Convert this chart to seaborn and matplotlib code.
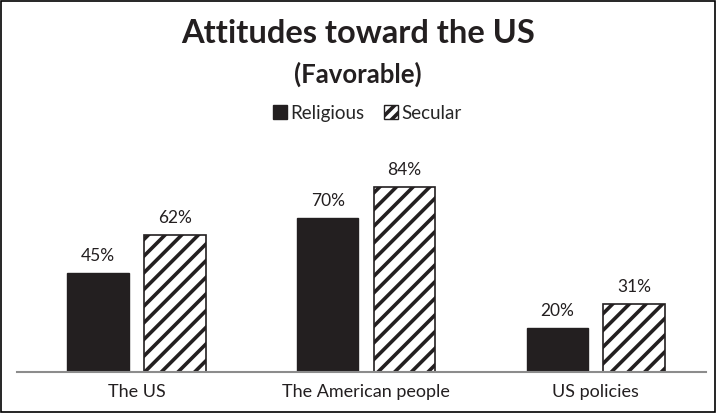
import matplotlib
matplotlib.use("Agg")
import matplotlib.pyplot as plt
from matplotlib.patches import Patch
import seaborn as sns
import pandas as pd

categories = ["The US", "The American people", "US policies"]
groups = ["Religious", "Secular"]
religious = [45, 70, 20]
secular = [62, 84, 31]

df = pd.DataFrame({
    "cat": categories * 2,
    "group": ["Religious"] * 3 + ["Secular"] * 3,
    "val": religious + secular,
})

sns.set_style("white")
plt.rcParams["font.family"] = ["Lato", "DejaVu Sans"]
plt.rcParams["hatch.linewidth"] = 2.6

fig = plt.figure(figsize=(7.16, 4.13), dpi=100)
ax = fig.add_axes([0.024, 0.1, 0.962, 0.532])

sns.barplot(data=df, x="cat", y="val", hue="group", order=categories,
            hue_order=groups, palette=["#231f20", "white"], width=0.67,
            gap=0.2, legend=False, ax=ax, saturation=1)

for i, bar in enumerate(ax.patches):
    bar.set_edgecolor("#231f20")
    if i >= 3:
        bar.set_hatch("//")
        bar.set_linewidth(1.2)

for cont in ax.containers:
    ax.bar_label(cont, labels=[f"{v:.0f}%" for v in cont.datavalues],
                 padding=6.5, fontsize=12.5, color="#231f20")

ax.set_ylim(0, 100)
ax.set_xlim(-0.52, 2.48)
ax.set_xlabel("")
ax.set_ylabel("")
ax.set_yticks([])
ax.tick_params(axis="x", length=0, labelsize=13, colors="#231f20", pad=9)
for s in ["top", "left", "right"]:
    ax.spines[s].set_visible(False)
ax.spines["bottom"].set_color("#8c8c8c")
ax.spines["bottom"].set_linewidth(1.5)

fig.text(0.5, 0.918, "Attitudes toward the US", ha="center", va="center",
         fontsize=23.5, fontweight="bold", color="#231f20")
fig.text(0.5, 0.82, "(Favorable)", ha="center", va="center",
         fontsize=18.5, fontweight="bold", color="#231f20")

handles = [Patch(facecolor="#231f20", edgecolor="#231f20"),
           Patch(facecolor="white", edgecolor="#231f20", hatch="///")]
fig.legend(handles, groups, loc="center", bbox_to_anchor=(0.513, 0.726),
           ncol=2, frameon=False, fontsize=13.5, handlelength=0.75,
           handleheight=0.75, handletextpad=0.2, columnspacing=1.0)

fig.patches.append(plt.Rectangle((0.001, 0.002), 0.997, 0.995,
                                 transform=fig.transFigure, fill=False,
                                 edgecolor="black", linewidth=1.2))

fig.savefig("out.png", dpi=100)
